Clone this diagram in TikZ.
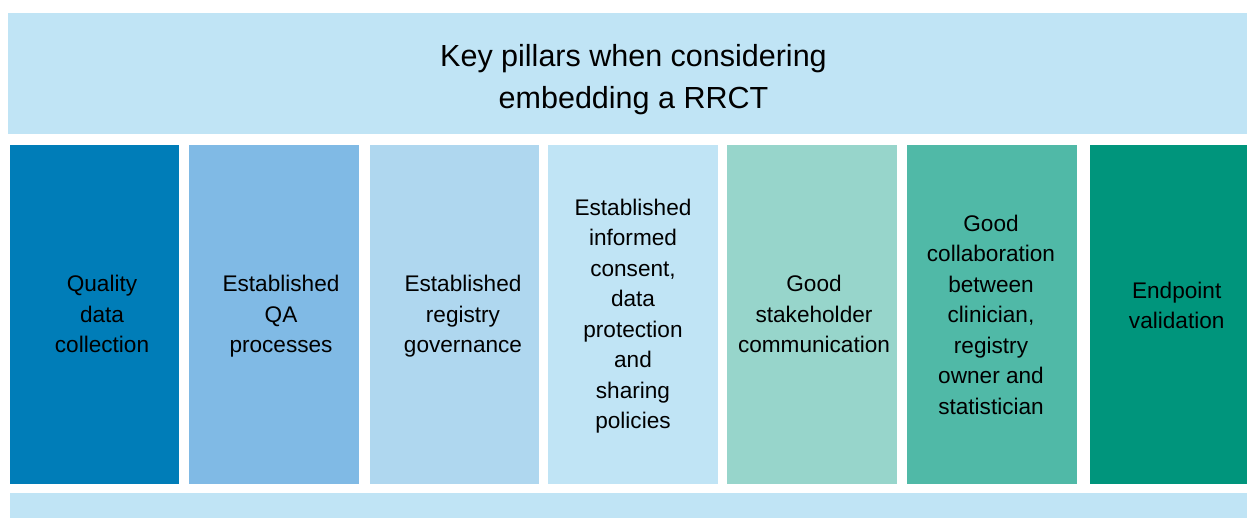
\documentclass[tikz,border=0pt]{standalone}
\usepackage{fontspec}
\setmainfont{Liberation Sans}
\definecolor{bannerblue}{HTML}{C0E4F5}
\definecolor{pillarA}{HTML}{007DB8}
\definecolor{pillarB}{HTML}{80BAE5}
\definecolor{pillarC}{HTML}{AFD7EF}
\definecolor{pillarD}{HTML}{C0E4F5}
\definecolor{pillarE}{HTML}{97D5CB}
\definecolor{pillarF}{HTML}{50B9A7}
\definecolor{pillarG}{HTML}{00957C}
\begin{document}
\begin{tikzpicture}[x=1pt,y=-1pt,
  banner/.style={fill=bannerblue,draw=none,inner sep=0pt,anchor=center},
  pillar/.style={draw=none,inner sep=0pt,minimum height=339pt,anchor=center},
  pillartext/.style={align=center,text=black,inner sep=0pt,
    font=\fontsize{22.6}{30.5}\selectfont},
  titletext/.style={align=center,text=black,inner sep=0pt,
    font=\fontsize{30.5}{42}\selectfont}]
\useasboundingbox (0,0) rectangle (1247,517);
\fill[white] (0,0) rectangle (1247,517);

% top and bottom banners
\node[banner,minimum width=1247pt,minimum height=121pt] (top) at (631.5,73.5) {};
\node[banner,minimum width=1245pt,minimum height=37pt] (bottom) at (632.5,511.5) {};
\node[titletext] (title) at (633.5,79.5) {Key pillars when considering\\embedding a RRCT};

% pillars
\node[pillar,fill=pillarA,minimum width=169.5pt] (p1) at (94.25,314.5) {};
\node[pillar,fill=pillarB,minimum width=170pt] (p2) at (274,314.5) {};
\node[pillar,fill=pillarC,minimum width=169pt] (p3) at (454.5,314.5) {};
\node[pillar,fill=pillarD,minimum width=170pt] (p4) at (633,314.5) {};
\node[pillar,fill=pillarE,minimum width=170pt] (p5) at (812,314.5) {};
\node[pillar,fill=pillarF,minimum width=170pt] (p6) at (992,314.5) {};
\node[pillar,fill=pillarG,minimum width=170pt] (p7) at (1175,314.5) {};

% pillar labels
\node[pillartext] (t1) at (102,314) {Quality\\data\\collection};
\node[pillartext] (t2) at (281,316.5) {Established\\QA\\processes};
\node[pillartext] (t3) at (463,316.5) {Established\\registry\\governance};
\node[pillartext] (t4) at (633,316) {Established\\informed\\consent,\\data\\protection\\and\\sharing\\policies};
\node[pillartext] (t5) at (814,314) {Good\\stakeholder\\communication};
\node[pillartext] (t6) at (991,314.5) {Good\\collaboration\\between\\clinician,\\registry\\owner and\\statistician};
\node[pillartext] (t7) at (1176.7,305.5) {Endpoint\\validation};
\end{tikzpicture}
\end{document}
